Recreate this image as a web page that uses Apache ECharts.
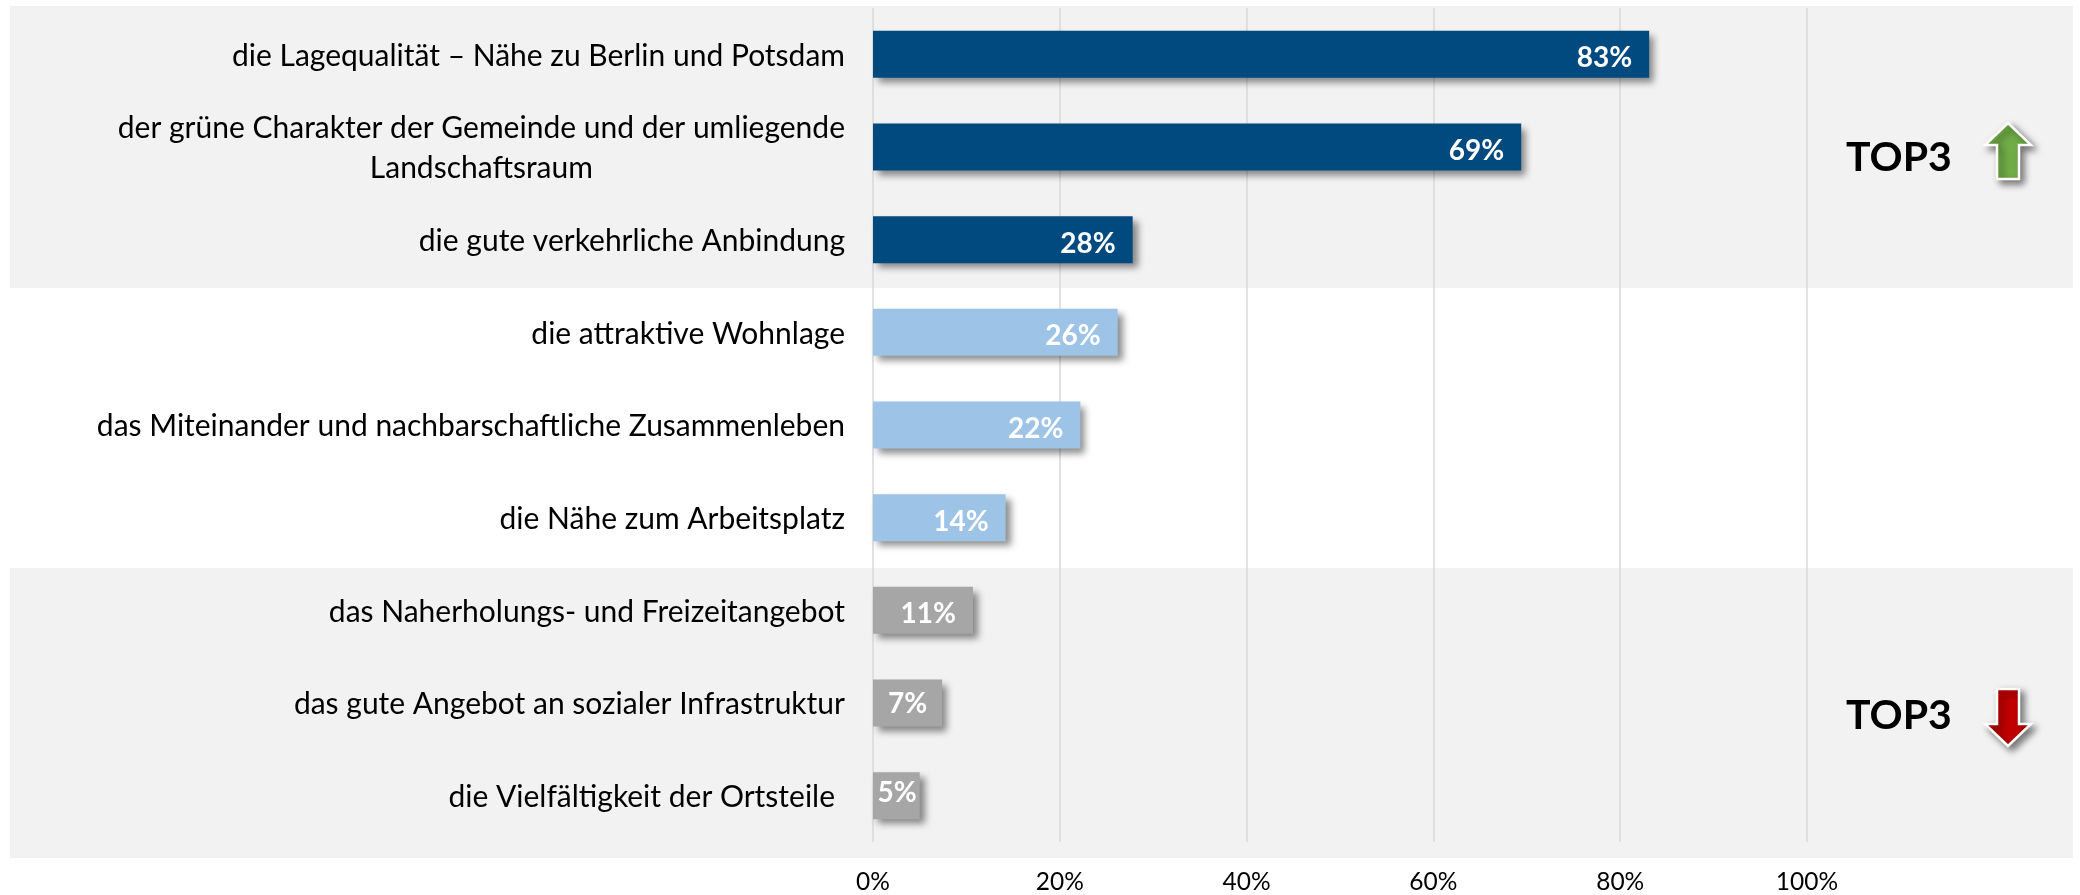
<!DOCTYPE html>
<html><head><meta charset="utf-8">
<style>html,body{margin:0;padding:0;background:#fff}#c{width:2080px;height:895px}</style>
<script src="https://cdn.jsdelivr.net/npm/echarts@6/dist/echarts.min.js"></script>
</head><body><div id="c"></div>
<script>
const categories = [
  'die Lagequalität – Nähe zu Berlin und Potsdam',
  'der grüne Charakter der Gemeinde und der umliegende\nLandschaftsraum',
  'die gute verkehrliche Anbindung',
  'die attraktive Wohnlage',
  'das Miteinander und nachbarschaftliche Zusammenleben',
  'die Nähe zum Arbeitsplatz',
  'das Naherholungs- und Freizeitangebot',
  'das gute Angebot an sozialer Infrastruktur',
  'die Vielfältigkeit der Ortsteile'
];
const values = [83.1, 69.4, 27.8, 26.2, 22.2, 14.2, 10.7, 7.4, 5.0];
const barColors = ['#004a7f','#004a7f','#004a7f','#9dc3e6','#9dc3e6','#9dc3e6','#a6a6a6','#a6a6a6','#a6a6a6'];
const ticks = [0,20,40,60,80,100];
const FONT = 'Lato';
const CAT_FS = 30;
const TICK_FS = 24.5;
const VAL_FS = 28;

function arrow(pts, color){
  return {type:'polygon', z:5, shape:{points:pts},
    style:{fill:color, stroke:'#fff', lineWidth:2.5, shadowBlur:7, shadowOffsetX:4, shadowOffsetY:4, shadowColor:'rgba(0,0,0,0.5)'}};
}
function band(y,h){ return {type:'rect', z:-10, silent:true, shape:{x:10,y:y,width:2063,height:h}, style:{fill:'#f2f2f2'}}; }
function topText(y){ return {type:'text', z:5, style:{x:1846,y:y,text:'TOP3',fill:'#000',font:'bold 41px '+FONT,textVerticalAlign:'middle'}}; }

const chart = echarts.init(document.getElementById('c'), null, {renderer:'canvas'});
chart.setOption({
  animation:false,
  backgroundColor:'#fff',
  grid:{left:873, top:8, width:934, height:835, containLabel:false},
  xAxis:{type:'value', min:0, max:100, interval:20,
    axisLine:{show:false}, axisTick:{show:false},
    splitLine:{show:true, lineStyle:{color:'#d9d9d9', width:1.5}},
    axisLabel:{margin:28, color:'#000', fontFamily:FONT, fontSize:TICK_FS, formatter:v=>v+'%'}},
  yAxis:{type:'category', inverse:true, data:categories,
    axisLine:{show:false}, axisTick:{show:false},
    axisLabel:{margin:28, color:'#000', fontFamily:FONT, fontSize:CAT_FS, lineHeight:40, padding:[3,0,0,0],
      formatter:(v)=>{
        if(v.indexOf('\n')>=0){ const p=v.split('\n'); return p[0]+'\n{c|'+p[1]+'}'; }
        if(v===categories[categories.length-1]) return '{t|'+v+'}';
        return v;
      },
      rich:{
        c:{width:727, align:'center', fontFamily:FONT, fontSize:CAT_FS, lineHeight:40, color:'#000'},
        t:{padding:[0,10,0,0], fontFamily:FONT, fontSize:CAT_FS, color:'#000'}
      }}},
  series:[{type:'bar', barWidth:47, z:3,
    data:values.map((v,i)=>({value:v,
      itemStyle:{color:barColors[i], shadowBlur:7, shadowOffsetX:5, shadowOffsetY:5, shadowColor:'rgba(0,0,0,0.45)'},
      label:{distance: i===8 ? 3 : (i===7 ? 15 : 17), offset:[0, i===8 ? -3 : (i===7 ? 1 : 4)]}})),
    label:{show:true, position:'insideRight', color:'#fff', fontFamily:FONT, fontWeight:'bold', fontSize:VAL_FS,
      formatter:p=>Math.round(p.value)+'%'}}],
  graphic:{elements:[
    band(6,282), band(568,290),
    topText(158), topText(716),
    arrow([[2008,123],[2031,145],[2019,145],[2019,179],[1997,179],[1997,145],[1985,145]],'#70ad47'),
    arrow([[1997,689],[2019,689],[2019,724],[2031,724],[2008,746],[1985,724],[1997,724]],'#c00000')
  ]}
});
</script></body></html>
